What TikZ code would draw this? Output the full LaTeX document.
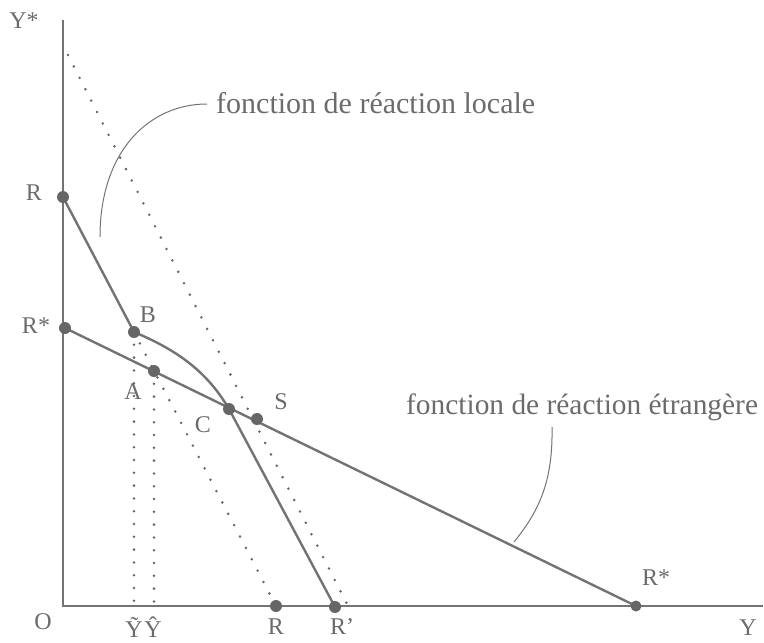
\documentclass[tikz,border=0pt]{standalone}
\usepackage{fontspec}
\setmainfont{Liberation Serif}
\definecolor{linecol}{gray}{0.45}
\definecolor{ptcol}{gray}{0.40}
\definecolor{txtcol}{gray}{0.42}
\definecolor{dotcol}{gray}{0.40}
\begin{document}
\begin{tikzpicture}[x=1pt,y=-1pt,
  mainline/.style={draw=linecol, line width=2.4pt, line join=round},
  axisline/.style={draw=linecol, line width=2.6pt},
  dotline/.style={draw=dotcol, line width=2.8pt, line cap=round, dash pattern=on 0pt off 12.8pt},
  thinline/.style={draw=linecol, line width=1pt},
  ptnode/.style={circle, fill=ptcol, inner sep=0pt, minimum size=12pt},
  lbl/.style={text=txtcol, font=\fontsize{24}{28}\selectfont, inner sep=0pt},
  ann/.style={text=txtcol, font=\fontsize{30}{36}\selectfont, inner sep=0pt}]
\useasboundingbox (0,0) rectangle (764,643);

% axes
\coordinate (O) at (63,606);
\coordinate (ytop) at (63,20);
\coordinate (xend) at (763,606);
\draw[axisline] (ytop) -- (O) -- (xend);

% key coordinates
\coordinate (R1c) at (63,197);
\coordinate (Rs1c) at (65,328);
\coordinate (Bc) at (134,332);
\coordinate (Ac) at (154,371);
\coordinate (Cc) at (229,409);
\coordinate (Sc) at (257,419);
\coordinate (R2c) at (276,606);
\coordinate (Rpc) at (335,607);
\coordinate (Rs2c) at (636,606);
\coordinate (dtop) at (68,55);
\coordinate (dbot) at (347,604);
\coordinate (Bfoot) at (134,606);
\coordinate (Afoot) at (154,606);

% dotted lines
\draw[dotline] (dtop) -- (dbot);
\draw[dotline] (Bc) -- (R2c);
\draw[dotline] (Bc) -- (Bfoot);
\draw[dotline] (Ac) -- (Afoot);

% reaction functions
\draw[mainline] (R1c) -- (Bc) .. controls (172,348) and (205,368) .. (Cc) -- (Rpc);
\draw[mainline] (Rs1c) -- (Rs2c);

% points
\node[ptnode] (R1) at (R1c) {};
\node[ptnode] (Rs1) at (Rs1c) {};
\node[ptnode] (B) at (Bc) {};
\node[ptnode] (A) at (Ac) {};
\node[ptnode] (C) at (Cc) {};
\node[ptnode] (S) at (Sc) {};
\node[ptnode] (R2) at (R2c) {};
\node[ptnode] (Rp) at (Rpc) {};
\node[ptnode, minimum size=11pt] (Rs2) at (Rs2c) {};

% labels
\node[lbl] (lYs) at (24,21) {Y*};
\node[lbl] (lR1) at (34,193) {R};
\node[lbl] (lRs1) at (36,326) {R*};
\node[lbl] (lB) at (148,315) {B};
\node[lbl] (lA) at (133,392) {A};
\node[lbl] (lC) at (203,425) {C};
\node[lbl] (lS) at (281,402) {S};
\node[lbl] (lO) at (43,622) {O};
\node[lbl] (lYt) at (134,627) {\~{Y}};
\node[lbl] (lYh) at (153,627) {\^{Y}};
\node[lbl] (lR2) at (276,627) {R};
\node[lbl] (lRp) at (342,627) {R'};
\node[lbl] (lRs2) at (656,578) {R*};
\node[lbl] (lY) at (748,628) {Y};

% annotations
\node[ann, anchor=base west] (tloc) at (216,113) {fonction de réaction locale};
\node[ann, anchor=base west, font=\fontsize{29.4}{35}\selectfont] (tetr) at (406,414) {fonction de réaction étrangère};
\coordinate (locstart) at (100,237);
\coordinate (locend) at (207,104);
\draw[thinline] (locstart) .. controls (100,150) and (150,104) .. (locend);
\coordinate (etrstart) at (552,427);
\coordinate (etrend) at (514,542);
\draw[thinline] (etrstart) .. controls (553,480) and (540,510) .. (etrend);
\end{tikzpicture}
\end{document}
